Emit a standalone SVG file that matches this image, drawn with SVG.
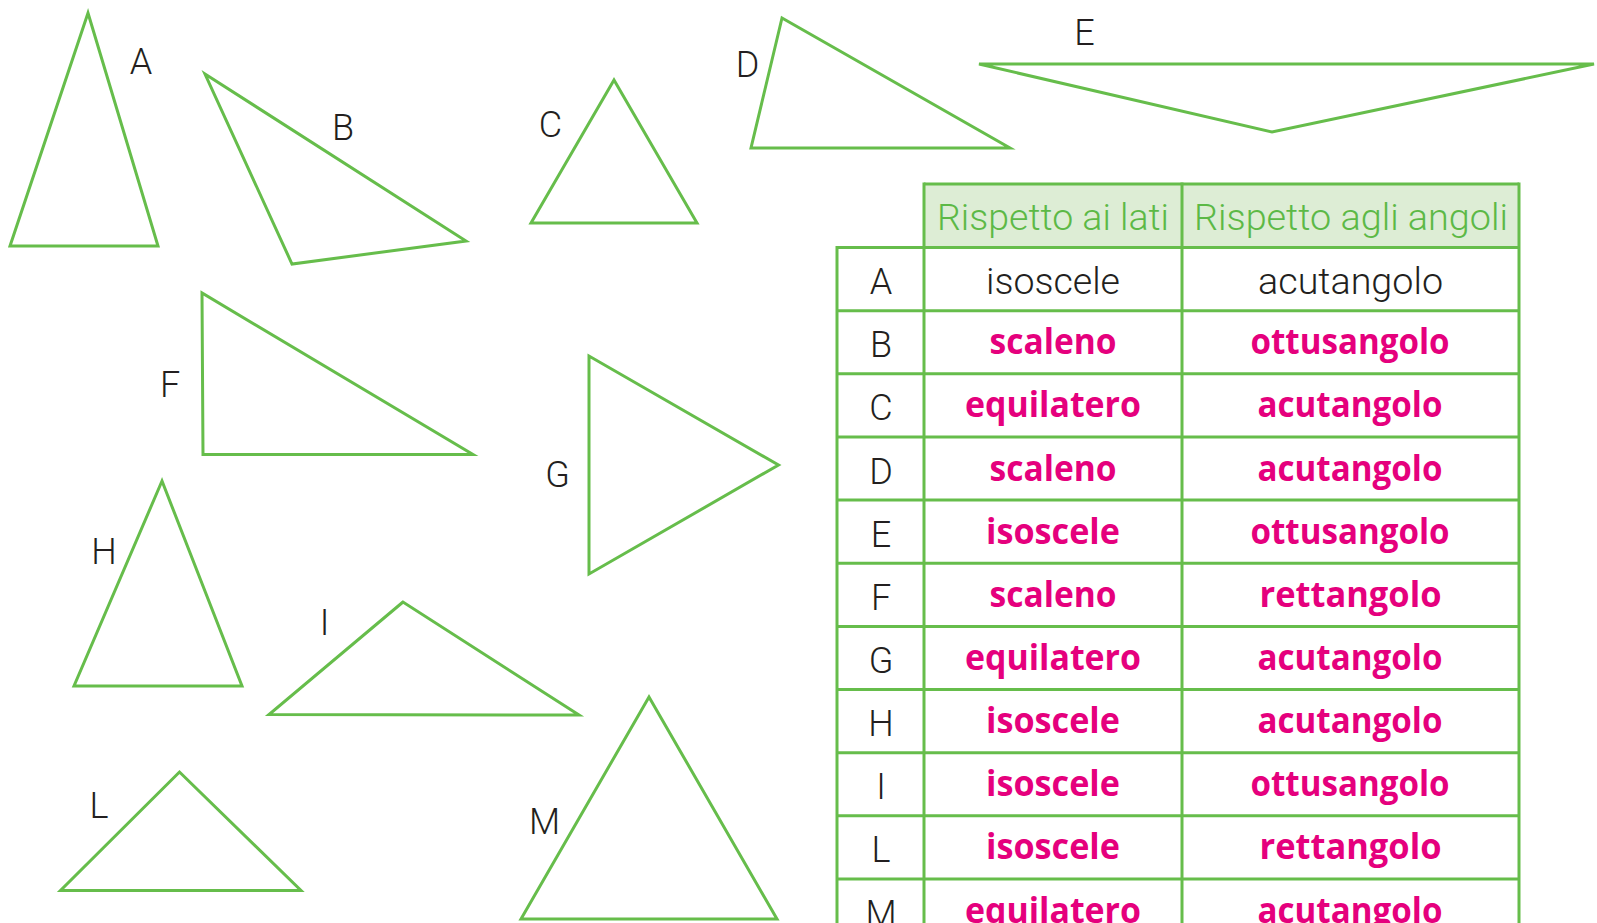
<svg xmlns="http://www.w3.org/2000/svg" width="1597" height="923" viewBox="0 0 1597 923">
<style>
.tri{fill:none;stroke:#66bd4b;stroke-width:3;stroke-linejoin:miter}
.lbl{font-family:Roboto,"Liberation Sans",sans-serif;font-weight:300;font-size:36px;fill:#231f20;text-anchor:middle}
.grid{stroke:#66bd4b;stroke-width:3;fill:none}
.hdr{font-family:Roboto,"Liberation Sans",sans-serif;font-weight:300;font-size:36px;fill:#5cb946;text-anchor:middle}
.blk{font-family:Roboto,"Liberation Sans",sans-serif;font-weight:300;font-size:36px;fill:#231f20;text-anchor:middle}
.pk{font-family:"Open Sans","Liberation Sans",sans-serif;font-weight:700;font-size:36px;fill:#e5007d;text-anchor:middle}
</style>
<rect width="1597" height="923" fill="#ffffff"/>
<g id="triA"><polygon class="tri" points="88,13 10,246 158,246"/><text class="lbl" x="141" y="74">A</text></g>
<g id="triB"><polygon class="tri" points="205,74 466,241 292,264"/><text class="lbl" x="343" y="140">B</text></g>
<g id="triC"><polygon class="tri" points="614,80 531,223 697,223"/><text class="lbl" x="550.5" y="137">C</text></g>
<g id="triD"><polygon class="tri" points="782,18 751,148 1010,148"/><text class="lbl" x="747.5" y="77">D</text></g>
<g id="triE"><polygon class="tri" points="979,64 1594,64 1272,132"/><text class="lbl" x="1084.5" y="45">E</text></g>
<g id="triF"><polygon class="tri" points="202,293 203,454.5 473,454.5"/><text class="lbl" x="170" y="397">F</text></g>
<g id="triG"><polygon class="tri" points="589,356 589,574 778.5,465"/><text class="lbl" x="557.5" y="487">G</text></g>
<g id="triH"><polygon class="tri" points="162,481 74,686 242,686"/><text class="lbl" x="104" y="564">H</text></g>
<g id="triI"><polygon class="tri" points="403,602 269,714.5 579,715"/><text class="lbl" x="324.5" y="635">I</text></g>
<g id="triL"><polygon class="tri" points="179.5,772 60.5,890.5 301,890.5"/><text class="lbl" x="99" y="818">L</text></g>
<g id="triM"><polygon class="tri" points="649,697 521,919 777,919"/><text class="lbl" x="544.5" y="834">M</text></g>
<g id="connectors"/>
<g id="table">
<rect x="924" y="184" width="595" height="63.5" fill="#ddedd5"/>
<g class="grid">
<line x1="924" y1="184" x2="1519" y2="184"/>
<line x1="837" y1="247.5" x2="1519" y2="247.5"/>
<line x1="837" y1="310.65" x2="1519" y2="310.65"/>
<line x1="837" y1="373.8" x2="1519" y2="373.8"/>
<line x1="837" y1="436.95" x2="1519" y2="436.95"/>
<line x1="837" y1="500.1" x2="1519" y2="500.1"/>
<line x1="837" y1="563.25" x2="1519" y2="563.25"/>
<line x1="837" y1="626.4" x2="1519" y2="626.4"/>
<line x1="837" y1="689.55" x2="1519" y2="689.55"/>
<line x1="837" y1="752.7" x2="1519" y2="752.7"/>
<line x1="837" y1="815.85" x2="1519" y2="815.85"/>
<line x1="837" y1="879" x2="1519" y2="879"/>
<line x1="837" y1="246" x2="837" y2="923"/>
<line x1="924" y1="182.5" x2="924" y2="923"/>
<line x1="1182" y1="182.5" x2="1182" y2="923"/>
<line x1="1519" y1="182.5" x2="1519" y2="923"/>
</g>
<text class="hdr" x="1053" y="230" textLength="232" lengthAdjust="spacingAndGlyphs">Rispetto ai lati</text>
<text class="hdr" x="1351" y="230" textLength="314" lengthAdjust="spacingAndGlyphs">Rispetto agli angoli</text>
<g id="rowA"><text class="blk" x="881" y="294">A</text><text class="blk" x="1053" y="294" textLength="134" lengthAdjust="spacingAndGlyphs">isoscele</text><text class="blk" x="1350.5" y="294" textLength="185" lengthAdjust="spacingAndGlyphs">acutangolo</text></g>
<g id="rowB"><text class="blk" x="881" y="357">B</text><text class="pk" x="1053" y="354" textLength="127" lengthAdjust="spacingAndGlyphs">scaleno</text><text class="pk" x="1350" y="354" textLength="199" lengthAdjust="spacingAndGlyphs">ottusangolo</text></g>
<g id="rowC"><text class="blk" x="881" y="420">C</text><text class="pk" x="1053" y="417" textLength="176" lengthAdjust="spacingAndGlyphs">equilatero</text><text class="pk" x="1350" y="417" textLength="185" lengthAdjust="spacingAndGlyphs">acutangolo</text></g>
<g id="rowD"><text class="blk" x="881" y="483.5">D</text><text class="pk" x="1053" y="480.5" textLength="127" lengthAdjust="spacingAndGlyphs">scaleno</text><text class="pk" x="1350" y="480.5" textLength="185" lengthAdjust="spacingAndGlyphs">acutangolo</text></g>
<g id="rowE"><text class="blk" x="881" y="546.5">E</text><text class="pk" x="1053" y="543.5" textLength="134" lengthAdjust="spacingAndGlyphs">isoscele</text><text class="pk" x="1350" y="543.5" textLength="199" lengthAdjust="spacingAndGlyphs">ottusangolo</text></g>
<g id="rowF"><text class="blk" x="881" y="609.7">F</text><text class="pk" x="1053" y="606.7" textLength="127" lengthAdjust="spacingAndGlyphs">scaleno</text><text class="pk" x="1350.5" y="606.7" textLength="182" lengthAdjust="spacingAndGlyphs">rettangolo</text></g>
<g id="rowG"><text class="blk" x="881" y="672.9">G</text><text class="pk" x="1053" y="670" textLength="176" lengthAdjust="spacingAndGlyphs">equilatero</text><text class="pk" x="1350" y="670" textLength="185" lengthAdjust="spacingAndGlyphs">acutangolo</text></g>
<g id="rowH"><text class="blk" x="881" y="736">H</text><text class="pk" x="1053" y="733" textLength="134" lengthAdjust="spacingAndGlyphs">isoscele</text><text class="pk" x="1350" y="733" textLength="185" lengthAdjust="spacingAndGlyphs">acutangolo</text></g>
<g id="rowI"><text class="blk" x="881" y="799.2">I</text><text class="pk" x="1053" y="796" textLength="134" lengthAdjust="spacingAndGlyphs">isoscele</text><text class="pk" x="1350" y="796" textLength="199" lengthAdjust="spacingAndGlyphs">ottusangolo</text></g>
<g id="rowL"><text class="blk" x="881" y="862.3">L</text><text class="pk" x="1053" y="859" textLength="134" lengthAdjust="spacingAndGlyphs">isoscele</text><text class="pk" x="1350.5" y="859" textLength="182" lengthAdjust="spacingAndGlyphs">rettangolo</text></g>
<g id="rowM"><text class="blk" x="881" y="925.5">M</text><text class="pk" x="1053" y="922.5" textLength="176" lengthAdjust="spacingAndGlyphs">equilatero</text><text class="pk" x="1350" y="922.5" textLength="185" lengthAdjust="spacingAndGlyphs">acutangolo</text></g>
</g>
</svg>
